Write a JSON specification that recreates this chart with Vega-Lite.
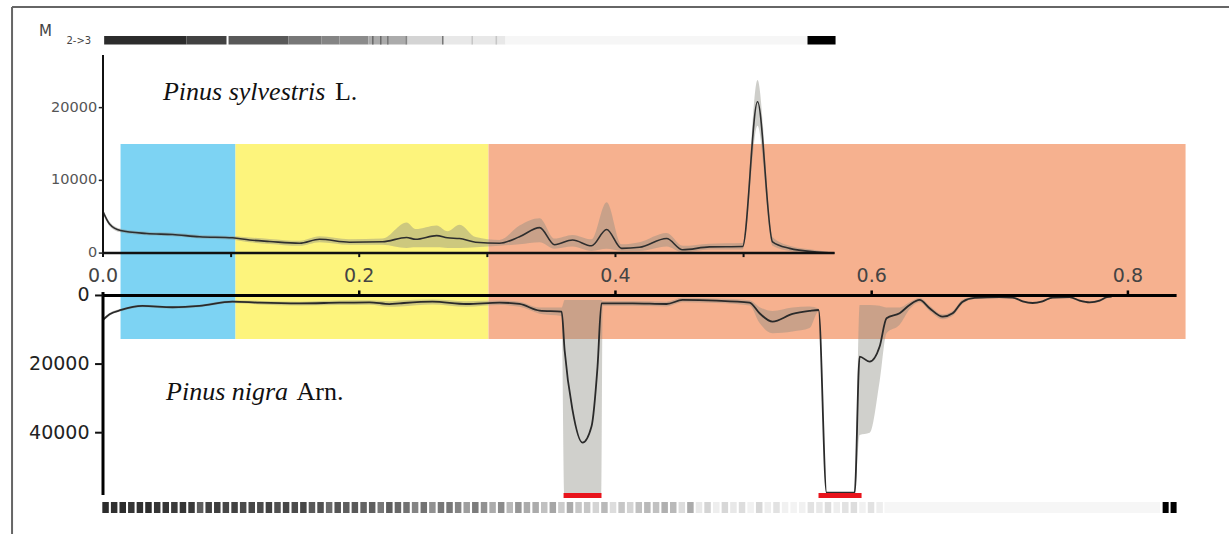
{
  "$schema": "https://vega.github.io/schema/vega-lite/v6.json",
  "autosize": {"type": "none"},
  "padding": {"left": 103, "top": 20, "right": 5, "bottom": 14},
  "width": 1121,
  "height": 500,
  "background": "white",
  "config": {"view": {"stroke": null}, "scale": {"continuousPadding": 0}},
  "datasets": {
    "regions": [
      {"x": 0.0137, "x2": 0.1034, "r": "I"},
      {"x": 0.1034, "x2": 0.3009, "r": "II"},
      {"x": 0.3009, "x2": 0.8450, "r": "III"}
    ],
    "sylvestris": [
      {"x": 0, "y": 5700, "lo": 5400, "hi": 6000},
      {"x": 0.0051, "y": 4000, "lo": 3700, "hi": 4300},
      {"x": 0.0137, "y": 3100, "lo": 2850, "hi": 3350},
      {"x": 0.0340, "y": 2700, "lo": 2450, "hi": 2950},
      {"x": 0.0543, "y": 2550, "lo": 2300, "hi": 2800},
      {"x": 0.0753, "y": 2250, "lo": 2000, "hi": 2500},
      {"x": 0.1011, "y": 2100, "lo": 1850, "hi": 2350},
      {"x": 0.1144, "y": 1800, "lo": 1500, "hi": 2150},
      {"x": 0.1300, "y": 1600, "lo": 1250, "hi": 1950},
      {"x": 0.1534, "y": 1350, "lo": 1000, "hi": 1700},
      {"x": 0.1690, "y": 1900, "lo": 1500, "hi": 2300},
      {"x": 0.1924, "y": 1500, "lo": 1150, "hi": 1900},
      {"x": 0.2182, "y": 1550, "lo": 1150, "hi": 2000},
      {"x": 0.2369, "y": 2150, "lo": 700, "hi": 4200},
      {"x": 0.2440, "y": 1900, "lo": 800, "hi": 3300},
      {"x": 0.2604, "y": 2400, "lo": 800, "hi": 3800},
      {"x": 0.2689, "y": 2100, "lo": 700, "hi": 3000},
      {"x": 0.2783, "y": 2000, "lo": 700, "hi": 3900},
      {"x": 0.2908, "y": 1500, "lo": 800, "hi": 2200},
      {"x": 0.3095, "y": 1350, "lo": 1000, "hi": 1800},
      {"x": 0.3251, "y": 2250, "lo": 1200, "hi": 3800},
      {"x": 0.3408, "y": 3500, "lo": 1500, "hi": 4800},
      {"x": 0.3525, "y": 1150, "lo": 600, "hi": 2000},
      {"x": 0.3665, "y": 1800, "lo": 900, "hi": 2500},
      {"x": 0.3813, "y": 1000, "lo": 300, "hi": 1900},
      {"x": 0.3931, "y": 3250, "lo": 600, "hi": 7000},
      {"x": 0.4048, "y": 650, "lo": 300, "hi": 1200},
      {"x": 0.4188, "y": 800, "lo": 300, "hi": 1500},
      {"x": 0.4399, "y": 2000, "lo": 900, "hi": 2750},
      {"x": 0.4524, "y": 450, "lo": 100, "hi": 1000},
      {"x": 0.4734, "y": 850, "lo": 500, "hi": 1300},
      {"x": 0.4992, "y": 900, "lo": 500, "hi": 1400},
      {"x": 0.5109, "y": 20800, "lo": 17500, "hi": 23800},
      {"x": 0.5226, "y": 1550, "lo": 1000, "hi": 2200},
      {"x": 0.5359, "y": 650, "lo": 300, "hi": 1000},
      {"x": 0.5570, "y": 150, "lo": 0, "hi": 400},
      {"x": 0.5710, "y": 0, "lo": 0, "hi": 100}
    ],
    "nigra": [
      {"x": 0, "y": 7140, "lo": 6700, "hi": 7600},
      {"x": 0.0051, "y": 5500, "lo": 5100, "hi": 5900},
      {"x": 0.0142, "y": 4230, "lo": 3900, "hi": 4600},
      {"x": 0.0308, "y": 3060, "lo": 2700, "hi": 3400},
      {"x": 0.0543, "y": 3440, "lo": 3100, "hi": 3800},
      {"x": 0.0753, "y": 3060, "lo": 2700, "hi": 3400},
      {"x": 0.1011, "y": 1800, "lo": 1400, "hi": 2200},
      {"x": 0.1222, "y": 2100, "lo": 1600, "hi": 2600},
      {"x": 0.1534, "y": 2300, "lo": 1800, "hi": 2900},
      {"x": 0.1846, "y": 2100, "lo": 1500, "hi": 2800},
      {"x": 0.2080, "y": 2000, "lo": 1400, "hi": 2700},
      {"x": 0.2236, "y": 2500, "lo": 1700, "hi": 3300},
      {"x": 0.2315, "y": 2280, "lo": 1500, "hi": 3200},
      {"x": 0.2572, "y": 1800, "lo": 1200, "hi": 2600},
      {"x": 0.2837, "y": 2480, "lo": 1700, "hi": 3300},
      {"x": 0.3095, "y": 2090, "lo": 1500, "hi": 2800},
      {"x": 0.3251, "y": 2480, "lo": 1800, "hi": 3300},
      {"x": 0.3408, "y": 4430, "lo": 3500, "hi": 5300},
      {"x": 0.3580, "y": 4720, "lo": 3500, "hi": 6000},
      {"x": 0.3603, "y": 15900, "lo": 1300, "hi": 58000},
      {"x": 0.3665, "y": 33400, "lo": 1300, "hi": 58000},
      {"x": 0.3743, "y": 42900, "lo": 1300, "hi": 58000},
      {"x": 0.3813, "y": 38200, "lo": 1300, "hi": 58000},
      {"x": 0.3860, "y": 20800, "lo": 1300, "hi": 58000},
      {"x": 0.3891, "y": 2280, "lo": 1300, "hi": 58000},
      {"x": 0.3900, "y": 2280, "lo": 1600, "hi": 3000},
      {"x": 0.4133, "y": 2280, "lo": 1600, "hi": 3000},
      {"x": 0.4399, "y": 2480, "lo": 1800, "hi": 3200},
      {"x": 0.4524, "y": 1310, "lo": 700, "hi": 2000},
      {"x": 0.4789, "y": 1500, "lo": 900, "hi": 2200},
      {"x": 0.5047, "y": 2090, "lo": 1400, "hi": 2900},
      {"x": 0.5125, "y": 5190, "lo": 3400, "hi": 8000},
      {"x": 0.5226, "y": 7640, "lo": 4500, "hi": 11000},
      {"x": 0.5382, "y": 5390, "lo": 3500, "hi": 10500},
      {"x": 0.5515, "y": 4500, "lo": 3200, "hi": 9500},
      {"x": 0.5585, "y": 4230, "lo": 3800, "hi": 4700},
      {"x": 0.5648, "y": 57500, "lo": 57500, "hi": 57500},
      {"x": 0.5867, "y": 57500, "lo": 57500, "hi": 57500},
      {"x": 0.5906, "y": 17800, "lo": 2800, "hi": 40700},
      {"x": 0.5984, "y": 19300, "lo": 2800, "hi": 40000},
      {"x": 0.6062, "y": 14900, "lo": 3000, "hi": 25000},
      {"x": 0.6116, "y": 6650, "lo": 3500, "hi": 11000},
      {"x": 0.6218, "y": 5190, "lo": 3500, "hi": 8500},
      {"x": 0.6296, "y": 2770, "lo": 2000, "hi": 4000},
      {"x": 0.6374, "y": 1310, "lo": 700, "hi": 2000},
      {"x": 0.6452, "y": 3730, "lo": 3000, "hi": 4500},
      {"x": 0.6554, "y": 6180, "lo": 5500, "hi": 6900},
      {"x": 0.6632, "y": 5190, "lo": 4500, "hi": 5900},
      {"x": 0.6710, "y": 1800, "lo": 1200, "hi": 2400},
      {"x": 0.6803, "y": 700, "lo": 400, "hi": 1000},
      {"x": 0.6998, "y": 500, "lo": 200, "hi": 800},
      {"x": 0.7100, "y": 600, "lo": 300, "hi": 900},
      {"x": 0.7178, "y": 1700, "lo": 1400, "hi": 2000},
      {"x": 0.7256, "y": 2200, "lo": 1900, "hi": 2500},
      {"x": 0.7334, "y": 1700, "lo": 1400, "hi": 2000},
      {"x": 0.7412, "y": 600, "lo": 300, "hi": 900},
      {"x": 0.7545, "y": 500, "lo": 200, "hi": 800},
      {"x": 0.7623, "y": 1500, "lo": 1200, "hi": 1800},
      {"x": 0.7701, "y": 2000, "lo": 1700, "hi": 2300},
      {"x": 0.7779, "y": 1500, "lo": 1200, "hi": 1800},
      {"x": 0.7834, "y": 500, "lo": 200, "hi": 800},
      {"x": 0.7873, "y": 300, "lo": 100, "hi": 500}
    ],
    "topStrip": [
      {"x": 0.0009, "x2": 0.0652, "v": 0.82},
      {"x": 0.0652, "x2": 0.0964, "v": 0.72},
      {"x": 0.0980, "x2": 0.1448, "v": 0.62},
      {"x": 0.1448, "x2": 0.1706, "v": 0.5},
      {"x": 0.1706, "x2": 0.1846, "v": 0.45},
      {"x": 0.1846, "x2": 0.2072, "v": 0.42},
      {"x": 0.2072, "x2": 0.2369, "v": 0.3},
      {"x": 0.2369, "x2": 0.2658, "v": 0.15},
      {"x": 0.2658, "x2": 0.3142, "v": 0.08},
      {"x": 0.3142, "x2": 0.5499, "v": 0.03},
      {"x": 0.5499, "x2": 0.5718, "v": 1},
      {"x": 0.2100, "x2": 0.2112, "v": 0.55},
      {"x": 0.2162, "x2": 0.2174, "v": 0.55},
      {"x": 0.2217, "x2": 0.2229, "v": 0.5},
      {"x": 0.2362, "x2": 0.2374, "v": 0.45},
      {"x": 0.2646, "x2": 0.2658, "v": 0.5},
      {"x": 0.2876, "x2": 0.2888, "v": 0.2},
      {"x": 0.3064, "x2": 0.3076, "v": 0.2}
    ],
    "botCells": [
      {"x": 0.0020, "v": 0.82}, {"x": 0.0087, "v": 0.8}, {"x": 0.0154, "v": 0.82}, {"x": 0.0221, "v": 0.78},
      {"x": 0.0288, "v": 0.8}, {"x": 0.0355, "v": 0.82}, {"x": 0.0423, "v": 0.78}, {"x": 0.0490, "v": 0.78},
      {"x": 0.0557, "v": 0.75}, {"x": 0.0624, "v": 0.78}, {"x": 0.0691, "v": 0.76}, {"x": 0.0758, "v": 0.6},
      {"x": 0.0825, "v": 0.72}, {"x": 0.0892, "v": 0.74}, {"x": 0.0959, "v": 0.7}, {"x": 0.1027, "v": 0.72},
      {"x": 0.1094, "v": 0.68}, {"x": 0.1161, "v": 0.7}, {"x": 0.1228, "v": 0.68}, {"x": 0.1295, "v": 0.72},
      {"x": 0.1362, "v": 0.66}, {"x": 0.1429, "v": 0.7}, {"x": 0.1497, "v": 0.68}, {"x": 0.1564, "v": 0.7},
      {"x": 0.1631, "v": 0.62}, {"x": 0.1698, "v": 0.66}, {"x": 0.1765, "v": 0.55}, {"x": 0.1832, "v": 0.64},
      {"x": 0.1899, "v": 0.6}, {"x": 0.1966, "v": 0.62}, {"x": 0.2034, "v": 0.58}, {"x": 0.2101, "v": 0.6},
      {"x": 0.2168, "v": 0.5}, {"x": 0.2235, "v": 0.6}, {"x": 0.2302, "v": 0.56}, {"x": 0.2369, "v": 0.52},
      {"x": 0.2436, "v": 0.45}, {"x": 0.2504, "v": 0.52}, {"x": 0.2571, "v": 0.4}, {"x": 0.2638, "v": 0.5},
      {"x": 0.2705, "v": 0.5}, {"x": 0.2772, "v": 0.45}, {"x": 0.2839, "v": 0.35}, {"x": 0.2906, "v": 0.48},
      {"x": 0.2974, "v": 0.4}, {"x": 0.3041, "v": 0.3}, {"x": 0.3108, "v": 0.42}, {"x": 0.3175, "v": 0.25},
      {"x": 0.3242, "v": 0.38}, {"x": 0.3309, "v": 0.3}, {"x": 0.3377, "v": 0.3}, {"x": 0.3444, "v": 0.22},
      {"x": 0.3511, "v": 0.32}, {"x": 0.3578, "v": 0.18}, {"x": 0.3645, "v": 0.3}, {"x": 0.3712, "v": 0.2},
      {"x": 0.3779, "v": 0.2}, {"x": 0.3847, "v": 0.15}, {"x": 0.3914, "v": 0.25}, {"x": 0.3981, "v": 0.12},
      {"x": 0.4048, "v": 0.2}, {"x": 0.4115, "v": 0.15}, {"x": 0.4182, "v": 0.22}, {"x": 0.4249, "v": 0.25},
      {"x": 0.4317, "v": 0.22}, {"x": 0.4384, "v": 0.28}, {"x": 0.4451, "v": 0.25}, {"x": 0.4518, "v": 0.12},
      {"x": 0.4585, "v": 0.3}, {"x": 0.4652, "v": 0.08}, {"x": 0.4719, "v": 0.15}, {"x": 0.4787, "v": 0.06},
      {"x": 0.4854, "v": 0.14}, {"x": 0.4921, "v": 0.08}, {"x": 0.4988, "v": 0.12}, {"x": 0.5055, "v": 0.05},
      {"x": 0.5122, "v": 0.14}, {"x": 0.5189, "v": 0.06}, {"x": 0.5257, "v": 0.1}, {"x": 0.5324, "v": 0.05},
      {"x": 0.5391, "v": 0.04}, {"x": 0.5458, "v": 0.05}, {"x": 0.5525, "v": 0.1}, {"x": 0.5592, "v": 0.08},
      {"x": 0.5659, "v": 0.12}, {"x": 0.5727, "v": 0.06}, {"x": 0.5794, "v": 0.1}, {"x": 0.5861, "v": 0.12},
      {"x": 0.5928, "v": 0.05}, {"x": 0.5995, "v": 0.1}, {"x": 0.6062, "v": 0.06}
    ],
    "botStrip": [
      {"x": 0.6100, "x2": 0.8250, "v": 0.03},
      {"x": 0.8271, "x2": 0.8318, "v": 1},
      {"x": 0.8333, "x2": 0.8380, "v": 1}
    ],
    "redBars": [
      {"x": 0.3595, "x2": 0.3891},
      {"x": 0.5585, "x2": 0.5921}
    ],
    "topTicks": [{"x": 0}, {"x": 0.1}, {"x": 0.2}, {"x": 0.3}, {"x": 0.4}, {"x": 0.5}],
    "botTicks": [{"x": 0.2}, {"x": 0.4}, {"x": 0.6}, {"x": 0.8}],
    "xLabels": [
      {"x": 0, "l": "0.0"}, {"x": 0.2, "l": "0.2"}, {"x": 0.4, "l": "0.4"}, {"x": 0.6, "l": "0.6"}, {"x": 0.8, "l": "0.8"}
    ],
    "topY": [{"y": 0, "l": "0"}, {"y": 10000, "l": "10000"}, {"y": 20000, "l": "20000"}],
    "botY": [{"y": 0, "l": "0"}, {"y": 20000, "l": "20000"}, {"y": 40000, "l": "40000"}],
    "one": [{}]
  },
  "layer": [
    {
      "layer": [
        {
          "data": {"name": "regions"},
          "mark": {"type": "rect"},
          "encoding": {
            "x": {"field": "x", "type": "quantitative", "scale": {"domain": [0, 0.875], "nice": false, "zero": false, "padding": 0}, "axis": null},
            "x2": {"field": "x2"},
            "y": {"datum": 15000, "type": "quantitative", "scale": {"domain": [-36700, 32050], "nice": false, "zero": false}, "axis": null},
            "y2": {"datum": -11812},
            "fill": {"field": "r", "type": "nominal", "scale": {"domain": ["I", "II", "III"], "range": ["#7dd3f3", "#fdf47c", "#f6b18f"]}, "legend": null}
          }
        },
        {
          "data": {"name": "sylvestris"},
          "mark": {"type": "area", "color": "#8a8a80", "opacity": 0.42, "interpolate": "monotone"},
          "encoding": {
            "x": {"field": "x", "type": "quantitative", "scale": {"domain": [0, 0.875], "nice": false, "zero": false, "padding": 0}, "axis": null},
            "y": {"field": "lo", "type": "quantitative", "scale": {"domain": [-36700, 32050], "nice": false, "zero": false}, "axis": null},
            "y2": {"field": "hi"}
          }
        },
        {
          "data": {"name": "sylvestris"},
          "mark": {"type": "line", "color": "#2e2e2e", "strokeWidth": 1.6, "interpolate": "monotone"},
          "encoding": {
            "x": {"field": "x", "type": "quantitative", "scale": {"domain": [0, 0.875], "nice": false, "zero": false, "padding": 0}, "axis": null},
            "y": {"field": "y", "type": "quantitative", "scale": {"domain": [-36700, 32050], "nice": false, "zero": false}, "axis": null}
          }
        },
        {
          "data": {"name": "one"},
          "mark": {"type": "rule", "color": "#111", "strokeWidth": 2.5},
          "encoding": {
            "x": {"datum": 0, "type": "quantitative", "scale": {"domain": [0, 0.875], "nice": false, "zero": false, "padding": 0}, "axis": null},
            "x2": {"datum": 0.571},
            "y": {"datum": 0, "type": "quantitative", "scale": {"domain": [-36700, 32050], "nice": false, "zero": false}, "axis": null}
          }
        },
        {
          "data": {"name": "one"},
          "mark": {"type": "rule", "color": "#111", "strokeWidth": 2},
          "encoding": {
            "x": {"datum": 0, "type": "quantitative", "scale": {"domain": [0, 0.875], "nice": false, "zero": false, "padding": 0}, "axis": null},
            "y": {"datum": 0, "type": "quantitative", "scale": {"domain": [-36700, 32050], "nice": false, "zero": false}, "axis": null},
            "y2": {"datum": 27237}
          }
        },
        {
          "data": {"name": "topTicks"},
          "mark": {"type": "rule", "color": "#111", "strokeWidth": 2},
          "encoding": {
            "x": {"field": "x", "type": "quantitative", "scale": {"domain": [0, 0.875], "nice": false, "zero": false, "padding": 0}, "axis": null},
            "y": {"datum": 0, "type": "quantitative", "scale": {"domain": [-36700, 32050], "nice": false, "zero": false}, "axis": null},
            "y2": {"datum": -550}
          }
        },
        {
          "data": {"name": "topY"},
          "mark": {"type": "rule", "color": "#222", "strokeWidth": 1.5},
          "encoding": {
            "x": {"datum": -0.0033, "type": "quantitative", "scale": {"domain": [0, 0.875], "nice": false, "zero": false, "padding": 0}, "axis": null},
            "x2": {"datum": 0},
            "y": {"field": "y", "type": "quantitative", "scale": {"domain": [-36700, 32050], "nice": false, "zero": false}, "axis": null}
          }
        },
        {
          "data": {"name": "topY"},
          "mark": {"type": "text", "font": "DejaVu Sans", "fontSize": 14.5, "color": "#555", "align": "right", "baseline": "middle"},
          "encoding": {
            "x": {"datum": -0.0045, "type": "quantitative", "scale": {"domain": [0, 0.875], "nice": false, "zero": false, "padding": 0}, "axis": null},
            "y": {"field": "y", "type": "quantitative", "scale": {"domain": [-36700, 32050], "nice": false, "zero": false}, "axis": null},
            "text": {"field": "l", "type": "nominal"}
          }
        },
        {
          "data": {"name": "xLabels"},
          "mark": {"type": "text", "font": "DejaVu Sans", "fontSize": 19, "color": "#444", "align": "center", "baseline": "alphabetic"},
          "encoding": {
            "x": {"field": "x", "type": "quantitative", "scale": {"domain": [0, 0.875], "nice": false, "zero": false, "padding": 0}, "axis": null},
            "y": {"datum": -3975, "type": "quantitative", "scale": {"domain": [-36700, 32050], "nice": false, "zero": false}, "axis": null},
            "text": {"field": "l", "type": "nominal"}
          }
        },
        {
          "data": {"name": "topStrip"},
          "mark": {"type": "rect"},
          "encoding": {
            "x": {"field": "x", "type": "quantitative", "scale": {"domain": [0, 0.875], "nice": false, "zero": false, "padding": 0}, "axis": null},
            "x2": {"field": "x2"},
            "y": {"datum": 29850, "type": "quantitative", "scale": {"domain": [-36700, 32050], "nice": false, "zero": false}, "axis": null},
            "y2": {"datum": 28680},
            "color": {"field": "v", "type": "quantitative", "scale": {"domain": [0, 1], "range": ["#ffffff", "#000000"]}, "legend": null}
          }
        },
        {
          "data": {"name": "one"},
          "mark": {"type": "text", "font": "DejaVu Sans", "fontSize": 15, "color": "#444", "align": "left", "baseline": "alphabetic", "text": "M"},
          "encoding": {
            "x": {"datum": -0.0500, "type": "quantitative", "scale": {"domain": [0, 0.875], "nice": false, "zero": false, "padding": 0}, "axis": null},
            "y": {"datum": 29900, "type": "quantitative", "scale": {"domain": [-36700, 32050], "nice": false, "zero": false}, "axis": null}
          }
        },
        {
          "data": {"name": "one"},
          "mark": {"type": "text", "font": "DejaVu Sans", "fontSize": 10, "color": "#444", "align": "left", "baseline": "alphabetic", "text": "2->3"},
          "encoding": {
            "x": {"datum": -0.0285, "type": "quantitative", "scale": {"domain": [0, 0.875], "nice": false, "zero": false, "padding": 0}, "axis": null},
            "y": {"datum": 28750, "type": "quantitative", "scale": {"domain": [-36700, 32050], "nice": false, "zero": false}, "axis": null}
          }
        },
        {
          "data": {"name": "one"},
          "mark": {"type": "text", "font": "Liberation Serif", "fontStyle": "italic", "fontSize": 26, "color": "#111", "align": "left", "baseline": "alphabetic", "text": "Pinus sylvestris"},
          "encoding": {
            "x": {"datum": 0.0468, "type": "quantitative", "scale": {"domain": [0, 0.875], "nice": false, "zero": false, "padding": 0}, "axis": null},
            "y": {"datum": 21050, "type": "quantitative", "scale": {"domain": [-36700, 32050], "nice": false, "zero": false}, "axis": null}
          }
        },
        {
          "data": {"name": "one"},
          "mark": {"type": "text", "font": "Liberation Serif", "fontSize": 26, "color": "#111", "align": "left", "baseline": "alphabetic", "text": "L."},
          "encoding": {
            "x": {"datum": 0.1810, "type": "quantitative", "scale": {"domain": [0, 0.875], "nice": false, "zero": false, "padding": 0}, "axis": null},
            "y": {"datum": 21050, "type": "quantitative", "scale": {"domain": [-36700, 32050], "nice": false, "zero": false}, "axis": null}
          }
        },
        {
          "data": {"name": "one"},
          "mark": {"type": "rule", "color": "#666", "strokeWidth": 2},
          "encoding": {
            "x": {"datum": -0.0710, "type": "quantitative", "scale": {"domain": [0, 0.875], "nice": false, "zero": false, "padding": 0}, "axis": null},
            "y": {"datum": 33837, "type": "quantitative", "scale": {"domain": [-36700, 32050], "nice": false, "zero": false}, "axis": null},
            "y2": {"datum": -38625}
          }
        },
        {
          "data": {"name": "one"},
          "mark": {"type": "rule", "color": "#666", "strokeWidth": 2},
          "encoding": {
            "x": {"datum": -0.0710, "type": "quantitative", "scale": {"domain": [0, 0.875], "nice": false, "zero": false, "padding": 0}, "axis": null},
            "x2": {"datum": 0.879},
            "y": {"datum": 33837, "type": "quantitative", "scale": {"domain": [-36700, 32050], "nice": false, "zero": false}, "axis": null}
          }
        }
      ]
    },
    {
      "layer": [
        {
          "data": {"name": "nigra"},
          "mark": {"type": "area", "color": "#8a8a80", "opacity": 0.4, "interpolate": "monotone"},
          "encoding": {
            "x": {"field": "x", "type": "quantitative", "scale": {"domain": [0, 0.875], "nice": false, "zero": false, "padding": 0}, "axis": null},
            "y": {"field": "lo", "type": "quantitative", "scale": {"domain": [-80300, 65450], "reverse": true, "nice": false, "zero": false}, "axis": null},
            "y2": {"field": "hi"}
          }
        },
        {
          "data": {"name": "nigra"},
          "mark": {"type": "line", "color": "#2a2a2a", "strokeWidth": 1.8, "interpolate": "monotone"},
          "encoding": {
            "x": {"field": "x", "type": "quantitative", "scale": {"domain": [0, 0.875], "nice": false, "zero": false, "padding": 0}, "axis": null},
            "y": {"field": "y", "type": "quantitative", "scale": {"domain": [-80300, 65450], "reverse": true, "nice": false, "zero": false}, "axis": null}
          }
        },
        {
          "data": {"name": "one"},
          "mark": {"type": "rule", "color": "#000", "strokeWidth": 3},
          "encoding": {
            "x": {"datum": 0, "type": "quantitative", "scale": {"domain": [0, 0.875], "nice": false, "zero": false, "padding": 0}, "axis": null},
            "x2": {"datum": 0.838},
            "y": {"datum": 0, "type": "quantitative", "scale": {"domain": [-80300, 65450], "reverse": true, "nice": false, "zero": false}, "axis": null}
          }
        },
        {
          "data": {"name": "one"},
          "mark": {"type": "rule", "color": "#000", "strokeWidth": 3},
          "encoding": {
            "x": {"datum": 0, "type": "quantitative", "scale": {"domain": [0, 0.875], "nice": false, "zero": false, "padding": 0}, "axis": null},
            "y": {"datum": -1000, "type": "quantitative", "scale": {"domain": [-80300, 65450], "reverse": true, "nice": false, "zero": false}, "axis": null},
            "y2": {"datum": 58162}
          }
        },
        {
          "data": {"name": "botTicks"},
          "mark": {"type": "rule", "color": "#000", "strokeWidth": 2.5},
          "encoding": {
            "x": {"field": "x", "type": "quantitative", "scale": {"domain": [0, 0.875], "nice": false, "zero": false, "padding": 0}, "axis": null},
            "y": {"datum": 0, "type": "quantitative", "scale": {"domain": [-80300, 65450], "reverse": true, "nice": false, "zero": false}, "axis": null},
            "y2": {"datum": -1458}
          }
        },
        {
          "data": {"name": "botY"},
          "mark": {"type": "rule", "color": "#111", "strokeWidth": 2},
          "encoding": {
            "x": {"datum": -0.0062, "type": "quantitative", "scale": {"domain": [0, 0.875], "nice": false, "zero": false, "padding": 0}, "axis": null},
            "x2": {"datum": 0},
            "y": {"field": "y", "type": "quantitative", "scale": {"domain": [-80300, 65450], "reverse": true, "nice": false, "zero": false}, "axis": null}
          }
        },
        {
          "data": {"name": "botY"},
          "mark": {"type": "text", "font": "DejaVu Sans", "fontSize": 19, "color": "#222", "align": "right", "baseline": "middle"},
          "encoding": {
            "x": {"datum": -0.0105, "type": "quantitative", "scale": {"domain": [0, 0.875], "nice": false, "zero": false, "padding": 0}, "axis": null},
            "y": {"field": "y", "type": "quantitative", "scale": {"domain": [-80300, 65450], "reverse": true, "nice": false, "zero": false}, "axis": null},
            "text": {"field": "l", "type": "nominal"}
          }
        },
        {
          "data": {"name": "redBars"},
          "mark": {"type": "rect", "color": "#e8141c"},
          "encoding": {
            "x": {"field": "x", "type": "quantitative", "scale": {"domain": [0, 0.875], "nice": false, "zero": false, "padding": 0}, "axis": null},
            "x2": {"field": "x2"},
            "y": {"datum": 57580, "type": "quantitative", "scale": {"domain": [-80300, 65450], "reverse": true, "nice": false, "zero": false}, "axis": null},
            "y2": {"datum": 59037}
          }
        },
        {
          "data": {"name": "botCells"},
          "mark": {"type": "bar", "size": 6.5, "orient": "vertical"},
          "encoding": {
            "x": {"field": "x", "type": "quantitative", "scale": {"domain": [0, 0.875], "nice": false, "zero": false, "padding": 0}, "axis": null},
            "y": {"datum": 60203, "type": "quantitative", "scale": {"domain": [-80300, 65450], "reverse": true, "nice": false, "zero": false}, "axis": null},
            "y2": {"datum": 63410},
            "color": {"field": "v", "type": "quantitative", "scale": {"domain": [0, 1], "range": ["#ffffff", "#000000"]}, "legend": null}
          }
        },
        {
          "data": {"name": "botStrip"},
          "mark": {"type": "rect"},
          "encoding": {
            "x": {"field": "x", "type": "quantitative", "scale": {"domain": [0, 0.875], "nice": false, "zero": false, "padding": 0}, "axis": null},
            "x2": {"field": "x2"},
            "y": {"datum": 60203, "type": "quantitative", "scale": {"domain": [-80300, 65450], "reverse": true, "nice": false, "zero": false}, "axis": null},
            "y2": {"datum": 63410},
            "color": {"field": "v", "type": "quantitative", "scale": {"domain": [0, 1], "range": ["#ffffff", "#000000"]}, "legend": null}
          }
        },
        {
          "data": {"name": "one"},
          "mark": {"type": "text", "font": "Liberation Serif", "fontStyle": "italic", "fontSize": 26, "color": "#111", "align": "left", "baseline": "alphabetic", "text": "Pinus nigra"},
          "encoding": {
            "x": {"datum": 0.0492, "type": "quantitative", "scale": {"domain": [0, 0.875], "nice": false, "zero": false, "padding": 0}, "axis": null},
            "y": {"datum": 30470, "type": "quantitative", "scale": {"domain": [-80300, 65450], "reverse": true, "nice": false, "zero": false}, "axis": null}
          }
        },
        {
          "data": {"name": "one"},
          "mark": {"type": "text", "font": "Liberation Serif", "fontSize": 26, "color": "#111", "align": "left", "baseline": "alphabetic", "text": "Arn."},
          "encoding": {
            "x": {"datum": 0.1510, "type": "quantitative", "scale": {"domain": [0, 0.875], "nice": false, "zero": false, "padding": 0}, "axis": null},
            "y": {"datum": 30470, "type": "quantitative", "scale": {"domain": [-80300, 65450], "reverse": true, "nice": false, "zero": false}, "axis": null}
          }
        }
      ]
    }
  ],
  "resolve": {"scale": {"y": "independent"}}
}
